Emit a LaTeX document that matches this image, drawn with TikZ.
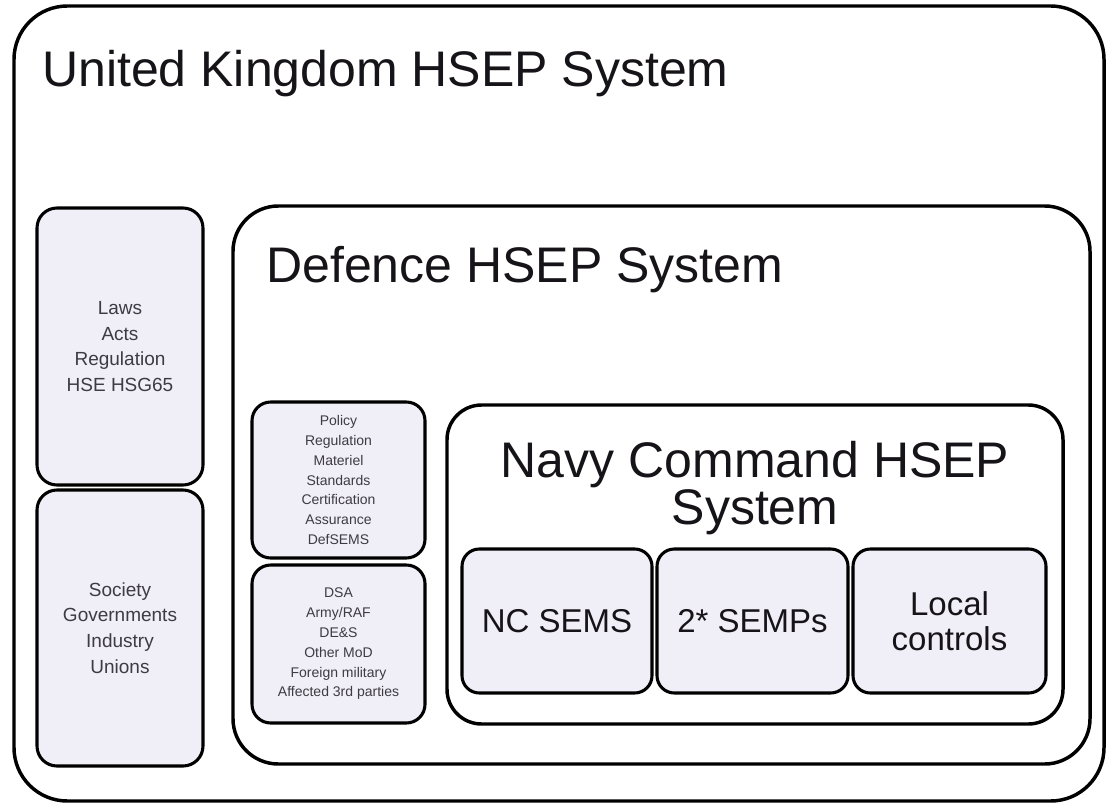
\documentclass[tikz,border=0pt]{standalone}
\usepackage{fontspec}
\setmainfont{Liberation Sans}
\usetikzlibrary{fit}
\definecolor{boxfill}{RGB}{240,238,246}
\definecolor{smalltext}{RGB}{62,60,66}
\definecolor{titletext}{RGB}{22,20,24}
\begin{document}
\begin{tikzpicture}[x=0.75pt,y=-0.75pt,
    sysbox/.style={draw,line width=2.6pt,fill=white,inner sep=0pt,rounded corners=#1},
    partbox/.style={draw,line width=2.3pt,fill=boxfill,inner sep=0pt,rounded corners=#1},
    bigtitle/.style={font=\fontsize{37.5}{35}\selectfont,text=titletext,inner sep=0pt,align=center},
    lawtext/.style={font=\fontsize{14.25}{19.2}\selectfont,text=smalltext,inner sep=0pt,align=center},
    deftext/.style={font=\fontsize{10.5}{14.85}\selectfont,text=smalltext,inner sep=0pt,align=center},
    semstext/.style={font=\fontsize{24.75}{26}\selectfont,text=titletext,inner sep=0pt,align=center}]
  \useasboundingbox (0,0) rectangle (1109,806);

  % outer system
  \node[sysbox=40pt,fit={(14,6) (1104,801)}] (uk) {};
  \node[bigtitle,anchor=base west] (uktitle) at (42,87) {United Kingdom HSEP System};

  % left column
  \node[partbox=15pt,fit={(37,208) (203,485)}] (laws) {};
  \node[lawtext] (lawslabel) at (laws.center) {Laws\\Acts\\Regulation\\HSE HSG65};
  \node[partbox=15pt,fit={(37,490) (203,766)}] (society) {};
  \node[lawtext] (societylabel) at (society.center) {Society\\Governments\\Industry\\Unions};

  % defence system
  \node[sysbox=34pt,fit={(233,206) (1090,764)}] (defence) {};
  \node[bigtitle,anchor=base west] (deftitle) at (266,282) {Defence HSEP System};

  \node[partbox=14pt,fit={(252,402) (425,558)}] (policy) {};
  \node[deftext] (policylabel) at (policy.center)
    {Policy\\Regulation\\Materiel\\Standards\\Certification\\Assurance\\DefSEMS};
  \node[partbox=14pt,fit={(252,565) (425,723)}] (dsa) {};
  \node[deftext] (dsalabel) at (dsa.center)
    {DSA\\Army/RAF\\DE\&S\\Other MoD\\Foreign military\\Affected 3rd parties};

  % navy command system
  \node[sysbox=26pt,fit={(447,405) (1063,724)}] (navy) {};
  \node[bigtitle] (navytitle) at (755,488) {Navy Command HSEP\\System};

  \node[partbox=13pt,fit={(462,549) (652,693)}] (ncsems) {};
  \node[semstext] (ncsemslabel) at (ncsems.center) {NC SEMS};
  \node[partbox=13pt,fit={(657,549) (848,693)}] (semps) {};
  \node[semstext] (sempslabel) at (semps.center) {2* SEMPs};
  \node[partbox=13pt,fit={(853,549) (1046,693)}] (local) {};
  \node[semstext] (locallabel) at (local.center) {Local\\controls};
\end{tikzpicture}
\end{document}
